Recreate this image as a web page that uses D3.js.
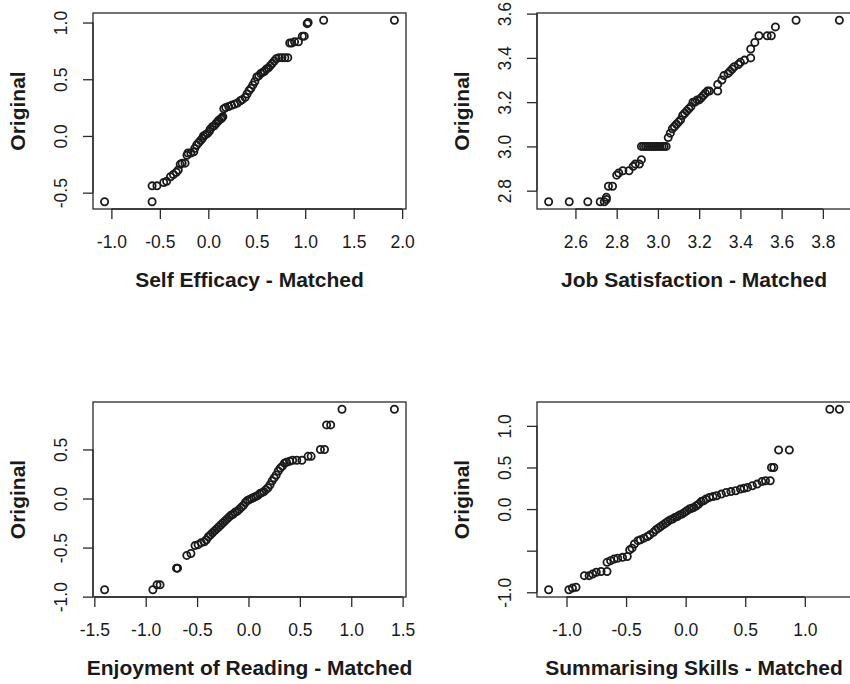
<!DOCTYPE html>
<html>
<head>
<meta charset="utf-8">
<script src="https://cdn.jsdelivr.net/npm/d3@7"></script>
<style>
  html, body { margin: 0; padding: 0; background: #fff; }
  svg { display: block; }
  text { font-family: "Liberation Sans", Arial, Helvetica, sans-serif; fill: #1a1a1a; }
</style>
</head>
<body>
<script>
// ---------------- DATA (QQ pairs: matched quantile, original quantile) ----------------
const selfEfficacyMatched = [-1.07,-0.58,-0.58,-0.53,-0.46,-0.43,-0.39,-0.36,-0.33,-0.31,-0.29,-0.27,-0.24,-0.22,-0.21,-0.18,-0.15,-0.14,-0.12,-0.10,-0.08,-0.06,-0.05,-0.03,-0.01,0.01,0.02,0.04,0.06,0.08,0.10,0.11,0.13,0.14,0.15,0.16,0.18,0.21,0.24,0.27,0.30,0.33,0.35,0.38,0.40,0.42,0.44,0.46,0.48,0.50,0.52,0.54,0.56,0.58,0.60,0.62,0.64,0.66,0.68,0.70,0.73,0.76,0.79,0.82,0.84,0.86,0.89,0.93,0.97,0.99,1.02,1.03,1.19,1.92];
const selfEfficacyOriginal = [-0.58,-0.58,-0.44,-0.44,-0.41,-0.40,-0.36,-0.34,-0.32,-0.30,-0.25,-0.24,-0.24,-0.17,-0.15,-0.15,-0.14,-0.11,-0.08,-0.06,-0.04,-0.02,0.00,0.01,0.02,0.04,0.06,0.08,0.09,0.11,0.13,0.14,0.15,0.16,0.17,0.24,0.25,0.26,0.27,0.28,0.29,0.31,0.32,0.34,0.37,0.40,0.42,0.45,0.48,0.52,0.53,0.55,0.56,0.57,0.59,0.60,0.62,0.64,0.66,0.68,0.69,0.69,0.69,0.69,0.82,0.82,0.83,0.83,0.88,0.88,0.99,1.00,1.02,1.02];

const jobSatMatched = [2.47,2.57,2.66,2.72,2.74,2.75,2.75,2.76,2.78,2.80,2.81,2.83,2.86,2.88,2.89,2.91,2.92,2.92,2.93,2.94,2.95,2.96,2.97,2.98,2.99,3.00,3.01,3.02,3.03,3.04,3.05,3.06,3.07,3.08,3.09,3.10,3.11,3.12,3.13,3.14,3.15,3.16,3.17,3.18,3.19,3.20,3.21,3.22,3.23,3.24,3.25,3.29,3.29,3.31,3.32,3.34,3.35,3.36,3.37,3.39,3.40,3.42,3.45,3.45,3.47,3.49,3.53,3.55,3.57,3.67,3.88];
const jobSatOriginal = [2.75,2.75,2.75,2.75,2.75,2.76,2.77,2.82,2.82,2.87,2.88,2.89,2.89,2.91,2.92,2.92,2.94,3.00,3.00,3.00,3.00,3.00,3.00,3.00,3.00,3.00,3.00,3.00,3.00,3.00,3.04,3.06,3.08,3.09,3.10,3.11,3.12,3.14,3.15,3.16,3.17,3.18,3.20,3.20,3.21,3.21,3.22,3.23,3.24,3.25,3.25,3.25,3.28,3.30,3.32,3.33,3.34,3.35,3.36,3.37,3.38,3.39,3.40,3.44,3.47,3.50,3.50,3.50,3.54,3.57,3.57];

const readingMatched = [-1.40,-0.93,-0.89,-0.86,-0.70,-0.69,-0.60,-0.56,-0.52,-0.49,-0.46,-0.43,-0.41,-0.39,-0.37,-0.35,-0.33,-0.31,-0.29,-0.27,-0.25,-0.23,-0.21,-0.19,-0.17,-0.15,-0.13,-0.11,-0.09,-0.07,-0.05,-0.03,-0.01,0.01,0.03,0.05,0.07,0.09,0.11,0.13,0.15,0.17,0.19,0.21,0.23,0.25,0.27,0.29,0.31,0.33,0.35,0.37,0.40,0.43,0.47,0.52,0.58,0.61,0.70,0.74,0.76,0.80,0.91,1.42];
const readingOriginal = [-0.93,-0.93,-0.88,-0.88,-0.71,-0.71,-0.58,-0.56,-0.48,-0.47,-0.45,-0.44,-0.42,-0.39,-0.37,-0.35,-0.33,-0.31,-0.29,-0.27,-0.25,-0.23,-0.21,-0.19,-0.17,-0.16,-0.14,-0.13,-0.11,-0.09,-0.07,-0.04,-0.02,-0.01,0.00,0.01,0.02,0.03,0.05,0.06,0.07,0.09,0.11,0.14,0.18,0.21,0.24,0.28,0.31,0.33,0.36,0.37,0.38,0.39,0.39,0.39,0.43,0.43,0.50,0.50,0.75,0.75,0.91,0.91];

const summarisingMatched = [-1.15,-0.98,-0.95,-0.92,-0.85,-0.81,-0.78,-0.75,-0.71,-0.66,-0.66,-0.63,-0.60,-0.57,-0.53,-0.49,-0.47,-0.45,-0.43,-0.40,-0.38,-0.35,-0.32,-0.30,-0.27,-0.25,-0.23,-0.21,-0.19,-0.17,-0.15,-0.13,-0.11,-0.09,-0.07,-0.05,-0.03,-0.01,0.01,0.03,0.05,0.07,0.09,0.11,0.13,0.15,0.17,0.20,0.23,0.26,0.30,0.34,0.38,0.42,0.46,0.49,0.52,0.56,0.60,0.64,0.67,0.71,0.72,0.74,0.78,0.87,1.21,1.29];
const summarisingOriginal = [-0.97,-0.97,-0.95,-0.94,-0.80,-0.80,-0.78,-0.76,-0.75,-0.75,-0.64,-0.62,-0.60,-0.59,-0.58,-0.57,-0.49,-0.47,-0.42,-0.38,-0.37,-0.35,-0.33,-0.31,-0.28,-0.25,-0.23,-0.21,-0.19,-0.17,-0.15,-0.13,-0.12,-0.10,-0.09,-0.07,-0.06,-0.04,-0.02,0.00,0.01,0.02,0.04,0.06,0.09,0.10,0.12,0.14,0.15,0.16,0.18,0.20,0.21,0.22,0.24,0.25,0.26,0.28,0.30,0.33,0.34,0.34,0.50,0.50,0.71,0.71,1.20,1.20];

const xTitles = ["Self Efficacy - Matched", "Job Satisfaction - Matched", "Enjoyment of Reading - Matched", "Summarising Skills - Matched"];
const yTitle = "Original";

const xTicks1 = [-1.0, -0.5, 0.0, 0.5, 1.0, 1.5, 2.0];
const yTicks1 = [-0.5, 0.0, 0.5, 1.0];
const xTicks2 = [2.6, 2.8, 3.0, 3.2, 3.4, 3.6, 3.8];
const yTicks2 = [2.8, 3.0, 3.2, 3.4, 3.6];
const xTicks3 = [-1.5, -1.0, -0.5, 0.0, 0.5, 1.0, 1.5];
const yTicks3 = [-1.0, -0.5, 0.0, 0.5];
const xTicks4 = [-1.0, -0.5, 0.0, 0.5, 1.0];
const yTicks4 = [-1.0, -0.5, 0.0, 0.5, 1.0];
const yTickLabels4 = ["-1.0", "", "0.0", "0.5", "1.0"];

// ---------------- LAYOUT ----------------
const W = 850, H = 684;
const svg = d3.select("body").append("svg").attr("width", W).attr("height", H);

const panels = [
  { xs: selfEfficacyMatched, ys: selfEfficacyOriginal, xt: xTicks1, yt: yTicks1, ytl: null, title: xTitles[0], box: {l: 93, r: 406, t: 13, b: 209} },
  { xs: jobSatMatched, ys: jobSatOriginal, xt: xTicks2, yt: yTicks2, ytl: null, title: xTitles[1], box: {l: 537, r: 851, t: 13, b: 209} },
  { xs: readingMatched, ys: readingOriginal, xt: xTicks3, yt: yTicks3, ytl: null, title: xTitles[2], box: {l: 93, r: 406, t: 402, b: 597} },
  { xs: summarisingMatched, ys: summarisingOriginal, xt: xTicks4, yt: yTicks4, ytl: yTickLabels4, title: xTitles[3], box: {l: 537, r: 851, t: 402, b: 597} }
];

function padded(arr) {
  const [mn, mx] = d3.extent(arr);
  const p = (mx - mn) * 0.04;
  return [mn - p, mx + p];
}

const fmt = d3.format(".1f");
const fmtTick = v => fmt(v).replace("−", "-");
const AX = "#2a2a2a";

panels.forEach(p => {
  const b = p.box;
  const x = d3.scaleLinear().domain(padded(p.xs)).range([b.l, b.r]);
  const y = d3.scaleLinear().domain(padded(p.ys)).range([b.b, b.t]);
  const g = svg.append("g");

  // box
  g.append("rect")
    .attr("x", b.l).attr("y", b.t)
    .attr("width", b.r - b.l).attr("height", b.b - b.t)
    .attr("fill", "none").attr("stroke", AX).attr("stroke-width", 1.3);

  // x axis
  const xAxis = d3.axisBottom(x).tickValues(p.xt).tickSize(10).tickFormat(fmtTick);
  const xa = g.append("g").attr("transform", `translate(0,${b.b})`).call(xAxis);
  xa.select(".domain").attr("d", `M${x(p.xt[0])},0H${x(p.xt[p.xt.length - 1])}`).attr("stroke", AX).attr("stroke-width", 1.3);
  xa.selectAll(".tick line").attr("stroke", AX).attr("stroke-width", 1.3);
  xa.selectAll(".tick text")
    .attr("y", 38.5).attr("dy", null)
    .style("font-size", "17.5px").style("font-family", '"Liberation Sans", Arial, sans-serif')
    .attr("fill", "#1a1a1a");

  // y axis
  const yAxis = d3.axisLeft(y).tickValues(p.yt).tickSize(10)
    .tickFormat((v, i) => p.ytl ? p.ytl[i] : fmtTick(v));
  const ya = g.append("g").attr("transform", `translate(${b.l},0)`).call(yAxis);
  ya.select(".domain").attr("d", `M0,${y(p.yt[0])}V${y(p.yt[p.yt.length - 1])}`).attr("stroke", AX).attr("stroke-width", 1.3);
  ya.selectAll(".tick line").attr("stroke", AX).attr("stroke-width", 1.3);
  ya.selectAll(".tick text")
    .attr("x", null).attr("dy", null)
    .attr("transform", "translate(-26,0) rotate(-90)")
    .attr("text-anchor", "middle")
    .style("font-size", "17.5px").style("font-family", '"Liberation Sans", Arial, sans-serif')
    .attr("fill", "#1a1a1a");

  // points
  g.append("g").selectAll("circle")
    .data(p.xs.map((v, i) => [v, p.ys[i]]))
    .join("circle")
    .attr("cx", d => x(d[0]))
    .attr("cy", d => y(d[1]))
    .attr("r", 3.6)
    .attr("fill", "none")
    .attr("stroke", "#1a1a1a")
    .attr("stroke-width", 1.8);

  // axis titles
  g.append("text")
    .attr("x", (b.l + b.r) / 2)
    .attr("y", b.b + 78)
    .attr("text-anchor", "middle")
    .style("font-size", "21px").style("font-weight", "bold")
    .text(p.title);

  g.append("text")
    .attr("transform", `translate(${b.l - 68},${(b.t + b.b) / 2}) rotate(-90)`)
    .attr("text-anchor", "middle")
    .style("font-size", "21px").style("font-weight", "bold")
    .text(yTitle);
});
</script>
</body>
</html>
